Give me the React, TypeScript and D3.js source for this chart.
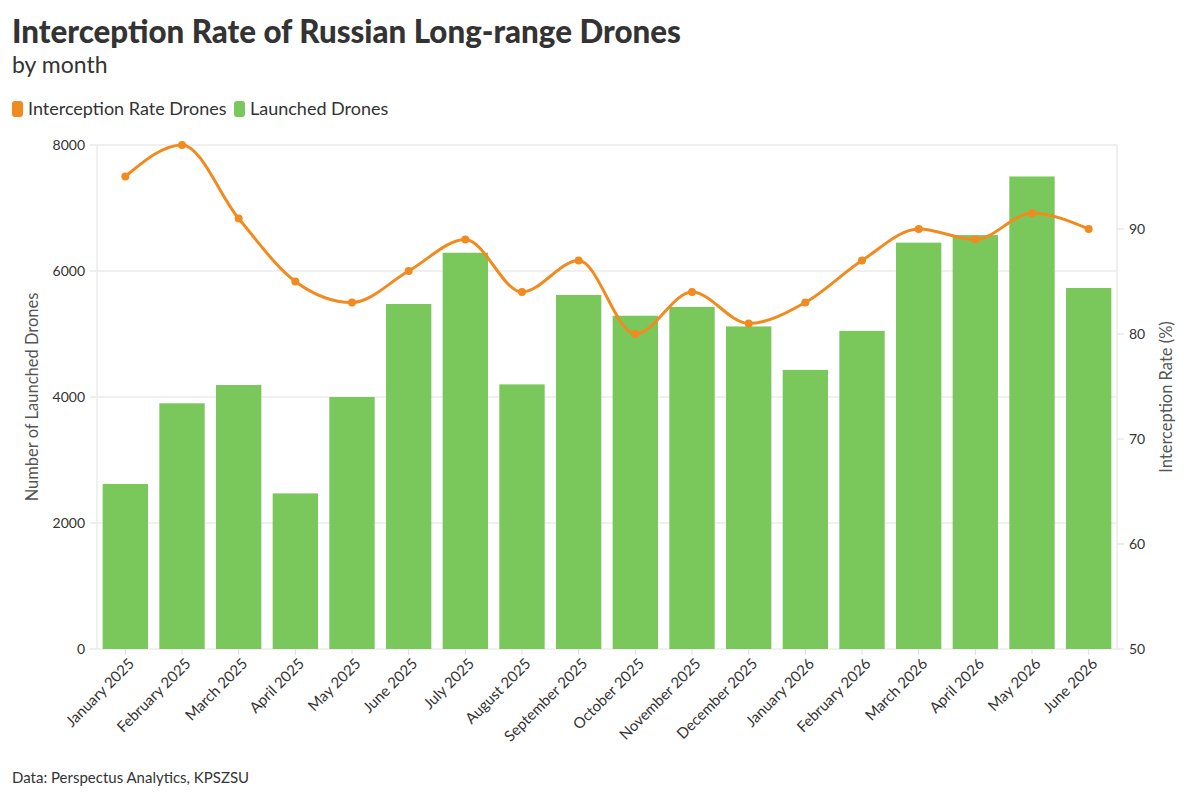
import React from "react";
import * as d3 from "d3";

const months = [
  "January 2025", "February 2025", "March 2025", "April 2025", "May 2025", "June 2025",
  "July 2025", "August 2025", "September 2025", "October 2025", "November 2025", "December 2025",
  "January 2026", "February 2026", "March 2026", "April 2026", "May 2026", "June 2026",
];
const launched = [2620, 3900, 4190, 2470, 4000, 5476, 6290, 4200, 5620, 5290, 5430, 5120, 4430, 5050, 6450, 6570, 7500, 5730];
const interception = [95, 98, 91, 85, 83, 86, 89, 84, 87, 80, 84, 81, 83, 87, 90, 89, 91.5, 90];
const leftTicks = [0, 2000, 4000, 6000, 8000];
const rightTicks = [50, 60, 70, 80, 90];

const W = 1200, H = 800;
const M = { left: 97, right: 1117, top: 145, bottom: 649 };
const ORANGE = "#f28b1f";
const GREEN = "#7ac75c";
const FONT = "Lato, 'Noto Sans', sans-serif";

export default function App() {
  const x = d3.scaleBand<string>().domain(months).range([M.left, M.right]).paddingInner(0.2).paddingOuter(0.1);
  const yL = d3.scaleLinear().domain([0, 8000]).range([M.bottom, M.top]);
  const yR = d3.scaleLinear().domain([50, 98]).range([M.bottom, M.top]);
  const line = d3.line<number>()
    .x((_, i) => (x(months[i]) as number) + x.bandwidth() / 2)
    .y((d) => yR(d))
    .curve(d3.curveMonotoneX);

  return (
    <svg width={W} height={H} style={{ position: "absolute", left: 0, top: 0, background: "#fff" }} fontFamily={FONT}>
      <text x={12} y={43} fontSize={31.3} fontWeight={900} fill="#333">Interception Rate of Russian Long-range Drones</text>
      <text x={12} y={73} fontSize={23} fill="#333">by month</text>
      <g>
        <rect x={12} y={101} width={11} height={16} rx={3} fill={ORANGE} />
        <text x={28} y={115} fontSize={18} fill="#333">Interception Rate Drones</text>
        <rect x={234} y={101} width={11} height={16} rx={3} fill={GREEN} />
        <text x={250} y={115} fontSize={18} fill="#333">Launched Drones</text>
      </g>

      {/* grid */}
      {leftTicks.map((t) => (
        <g key={t}>
          <line x1={M.left} x2={M.right} y1={yL(t)} y2={yL(t)} stroke="#ebebeb" strokeWidth={1.5} />
          <line x1={M.left - 7} x2={M.left} y1={yL(t)} y2={yL(t)} stroke="#ddd" strokeWidth={1} />
          <text x={M.left - 12} y={yL(t)} dy="0.35em" textAnchor="end" fontSize={14} fill="#333">{t}</text>
        </g>
      ))}
      <line x1={M.left} x2={M.left} y1={M.top} y2={M.bottom} stroke="#ebebeb" strokeWidth={1.5} />
      <line x1={M.right} x2={M.right} y1={M.top} y2={M.bottom} stroke="#ebebeb" strokeWidth={1.5} />
      {rightTicks.map((t) => (
        <g key={t}>
          <line x1={M.right} x2={M.right + 7} y1={yR(t)} y2={yR(t)} stroke="#ddd" strokeWidth={1} />
          <text x={M.right + 12} y={yR(t)} dy="0.35em" textAnchor="start" fontSize={14} fill="#333">{t}</text>
        </g>
      ))}

      <text transform={`translate(38,${(M.top + M.bottom) / 2}) rotate(-90)`} textAnchor="middle" fontSize={16.5} fill="#555">Number of Launched Drones</text>
      <text transform={`translate(1172,${(M.top + M.bottom) / 2}) rotate(-90)`} textAnchor="middle" fontSize={16.5} fill="#555">Interception Rate (%)</text>

      {/* bars */}
      {months.map((m, i) => (
        <rect key={m} x={x(m)} y={yL(launched[i])} width={x.bandwidth()} height={M.bottom - yL(launched[i])} fill={GREEN} />
      ))}

      {/* x axis */}
      {months.map((m) => {
        const cx = (x(m) as number) + x.bandwidth() / 2;
        return (
          <g key={m}>
            <line x1={cx} x2={cx} y1={M.bottom} y2={M.bottom + 6} stroke="#ddd" />
            <text transform={`translate(${cx + 6},${M.bottom + 12}) rotate(-45)`} textAnchor="end" dy="0.35em" fontSize={15} fill="#333">{m}</text>
          </g>
        );
      })}

      {/* line */}
      <path d={line(interception) || ""} fill="none" stroke={ORANGE} strokeWidth={3} />
      {interception.map((v, i) => (
        <circle key={i} cx={(x(months[i]) as number) + x.bandwidth() / 2} cy={yR(v)} r={4} fill={ORANGE} />
      ))}

      <text x={12} y={783} fontSize={15} fill="#333">Data: Perspectus Analytics, KPSZSU</text>
    </svg>
  );
}
